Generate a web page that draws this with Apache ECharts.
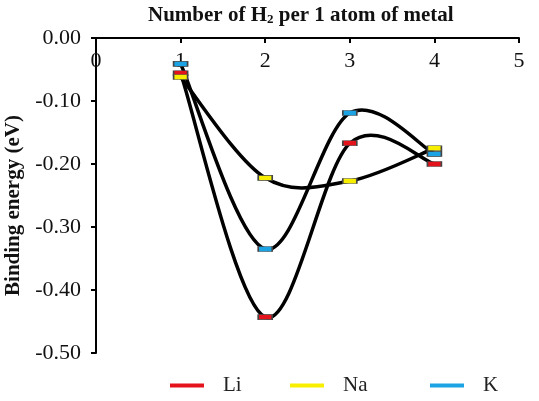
<!DOCTYPE html>
<html>
<head>
<meta charset="utf-8">
<script src="https://cdn.jsdelivr.net/npm/echarts@6/dist/echarts.min.js"></script>
<style>
  html, body { margin: 0; padding: 0; background: #fff; }
  #chart { width: 539px; height: 401px; }
</style>
</head>
<body>
<div id="chart"></div>
<script>
// number of H2 per metal atom
const counts = [1, 2, 3, 4]
const li = [-0.056, -0.443, -0.167, -0.200]
const na = [-0.062, -0.222, -0.227, -0.175]
const k = [-0.041, -0.335, -0.119, -0.184]
const names = ['Li', 'Na', 'K']
const colors = ['#e3121b', '#f7ee00', '#1ba3e3']

const font = 'Liberation Serif, Times New Roman, serif'

function pairs(vals){
    return counts.map((c, i) => [c, vals[i]])
}

// black smoothed curve (spreadsheet style spline) through the points
function makeCurve(vals){
    return {
        type: 'custom',
        data: pairs(vals),
        encode: { x: 0, y: 1 },
        z: 2,
        silent: true,
        renderItem(params, api){
            if(params.dataIndexInside !== 0) return null
            const n = params.dataInsideLength
            const p = []
            for(let i = 0; i < n; i++){
                p.push(api.coord([api.value(0, i), api.value(1, i)]))
            }
            const at = i => p[Math.max(0, Math.min(n - 1, i))]
            const children = []
            for(let i = 0; i < n - 1; i++){
                const p0 = at(i - 1), p1 = at(i), p2 = at(i + 1), p3 = at(i + 2)
                children.push({
                    type: 'bezierCurve',
                    shape: {
                        x1: p1[0], y1: p1[1],
                        cpx1: p1[0] + (p2[0] - p0[0]) / 6, cpy1: p1[1] + (p2[1] - p0[1]) / 6,
                        cpx2: p2[0] - (p3[0] - p1[0]) / 6, cpy2: p2[1] - (p3[1] - p1[1]) / 6,
                        x2: p2[0], y2: p2[1]
                    },
                    style: { stroke: '#000', lineWidth: 3.5, fill: null, lineCap: 'round' }
                })
            }
            return { type: 'group', children: children }
        }
    }
}

function makeMarkers(name, vals, color){
    return {
        name: name,
        type: 'scatter',
        data: pairs(vals),
        symbol: 'rect',
        symbolSize: [14, 5],
        z: 3,
        itemStyle: { color: color, borderColor: '#444', borderWidth: 1, opacity: 1 },
        emphasis: { disabled: true }
    }
}

function makeLegend(name, color, left){
    return {
        data: [{ name: name, itemStyle: { color: color, borderWidth: 0 } }],
        left: left,
        top: 370,
        icon: 'rect',
        itemWidth: 34,
        itemHeight: 4,
        selectedMode: false,
        textStyle: { fontFamily: font, fontSize: 21, color: '#222', padding: [0, 0, 0, 14] }
    }
}

const chart = echarts.init(document.getElementById('chart'))
chart.setOption({
    animation: false,
    title: {
        text: 'Number of H{sub|2} per 1 atom of metal',
        left: 143,
        top: 0,
        textStyle: {
            fontFamily: font, fontSize: 21, fontWeight: 'bold', color: '#111',
            rich: { sub: { fontFamily: font, fontSize: 13, fontWeight: 'bold', color: '#111', verticalAlign: 'bottom', padding: [8, 0, 0, 0] } }
        }
    },
    legend: [
        makeLegend(names[0], colors[0], 165),
        makeLegend(names[1], colors[1], 285),
        makeLegend(names[2], colors[2], 425)
    ],
    grid: { left: 96, right: 20, top: 38, bottom: 48, containLabel: false, outerBoundsMode: 'none' },
    xAxis: {
        type: 'value',
        position: 'top',
        min: 0,
        max: 5,
        interval: 1,
        axisLine: { onZero: false, lineStyle: { color: '#000', width: 2 } },
        axisTick: { inside: true, length: 5, lineStyle: { color: '#000', width: 2 } },
        axisLabel: { inside: true, margin: 12, fontFamily: font, fontSize: 22, color: '#111' },
        splitLine: { show: false }
    },
    yAxis: {
        type: 'value',
        min: -0.5,
        max: 0,
        interval: 0.1,
        name: 'Binding energy (eV)',
        nameLocation: 'middle',
        nameGap: 67,
        nameRotate: 90,
        nameTextStyle: { fontFamily: font, fontSize: 21, fontWeight: 'bold', color: '#111', padding: [0, 20, 0, 0] },
        axisLine: { show: true, onZero: false, lineStyle: { color: '#000', width: 2 } },
        axisTick: { show: true, length: 5, lineStyle: { color: '#000', width: 2 } },
        axisLabel: {
            margin: 15, fontFamily: font, fontSize: 22, color: '#111',
            formatter: v => v.toFixed(2)
        },
        splitLine: { show: false }
    },
    series: [
        makeCurve(li),
        makeCurve(na),
        makeCurve(k),
        makeMarkers(names[0], li, colors[0]),
        makeMarkers(names[1], na, colors[1]),
        makeMarkers(names[2], k, colors[2])
    ]
})
</script>
</body>
</html>
